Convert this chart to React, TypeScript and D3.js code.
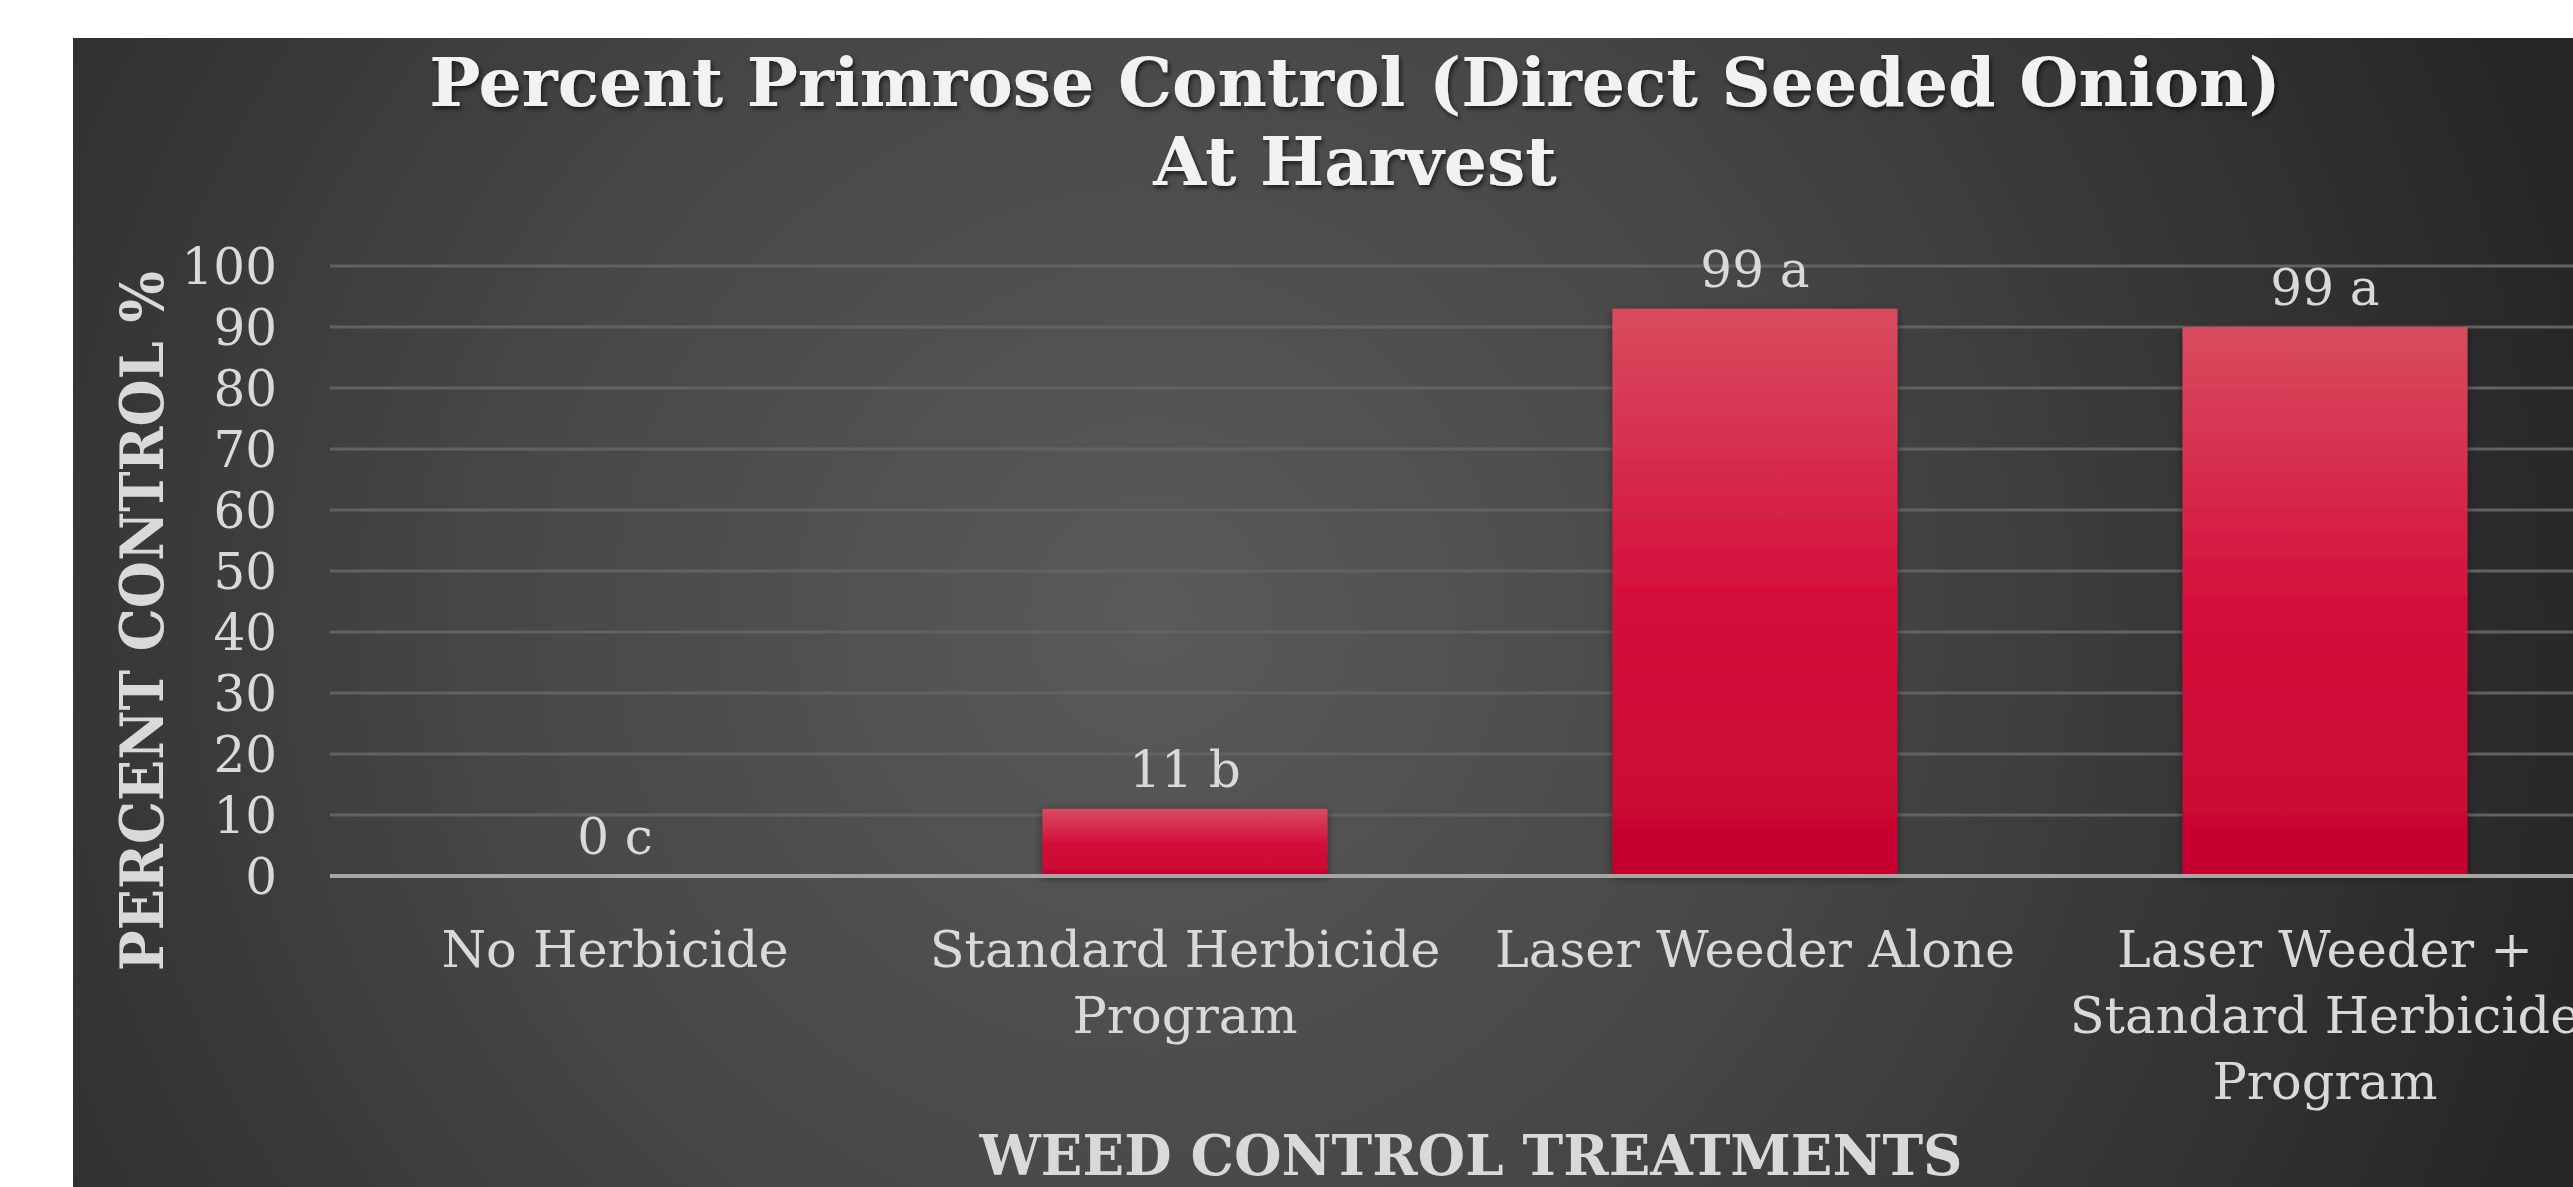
import { useEffect, useRef } from "react";
import * as d3 from "d3";

const categories = [
  "No Herbicide",
  "Standard Herbicide Program",
  "Laser Weeder Alone",
  "Laser Weeder + Standard Herbicide Program",
];
const categoryLines = [
  ["No Herbicide"],
  ["Standard Herbicide", "Program"],
  ["Laser Weeder Alone"],
  ["Laser Weeder +", "Standard Herbicide", "Program"],
];
const values = [0, 11, 93, 90];
const valueLabels = ["0 c", "11 b", "99 a", "99 a"];
const yTicks = [0, 10, 20, 30, 40, 50, 60, 70, 80, 90, 100];
const titleLines = ["Percent Primrose Control (Direct Seeded Onion)", "At Harvest"];

const W = 2573;
const H = 1187;
const serif = "'DejaVu Serif', Georgia, serif";

const ChartBars = () => {
  const svgRef = useRef<SVGSVGElement>(null);

  useEffect(() => {
    const svg = d3.select(svgRef.current);
    svg.selectAll("*").remove();

    const plot = { left: 330, right: 2610, top: 266, bottom: 876 };

    const defs = svg.append("defs");
    // background radial shading
    const bg = defs
      .append("radialGradient")
      .attr("id", "bgGrad")
      .attr("gradientUnits", "userSpaceOnUse")
      .attr("cx", 1150)
      .attr("cy", 620)
      .attr("r", 1450);
    bg.append("stop").attr("offset", "0%").attr("stop-color", "#5a5a5a");
    bg.append("stop").attr("offset", "45%").attr("stop-color", "#474747");
    bg.append("stop").attr("offset", "100%").attr("stop-color", "#272727");

    const barGrad = defs
      .append("linearGradient")
      .attr("id", "barGrad")
      .attr("x1", 0)
      .attr("y1", 0)
      .attr("x2", 0)
      .attr("y2", 1);
    barGrad.append("stop").attr("offset", "0%").attr("stop-color", "#d84c5e");
    barGrad.append("stop").attr("offset", "50%").attr("stop-color", "#d5103c");
    barGrad.append("stop").attr("offset", "100%").attr("stop-color", "#c6042f");

    const shadow = defs
      .append("filter")
      .attr("id", "barShadow")
      .attr("x", "-10%")
      .attr("y", "-10%")
      .attr("width", "120%")
      .attr("height", "120%");
    shadow
      .append("feDropShadow")
      .attr("dx", 0)
      .attr("dy", 2)
      .attr("stdDeviation", 4)
      .attr("flood-color", "#000")
      .attr("flood-opacity", 0.45);

    const textShadow = defs.append("filter").attr("id", "textShadow");
    textShadow
      .append("feDropShadow")
      .attr("dx", 2)
      .attr("dy", 3)
      .attr("stdDeviation", 2)
      .attr("flood-color", "#000")
      .attr("flood-opacity", 0.6);

    // white page + dark chart area
    svg.append("rect").attr("width", W).attr("height", H).attr("fill", "#ffffff");
    svg
      .append("rect")
      .attr("x", 73)
      .attr("y", 38)
      .attr("width", W - 73)
      .attr("height", H - 38)
      .attr("fill", "url(#bgGrad)");

    const xScale = d3
      .scaleBand()
      .domain(categories)
      .range([plot.left, plot.right])
      .paddingInner(0.5)
      .paddingOuter(0.25);

    const yScale = d3.scaleLinear().domain([0, 100]).range([plot.bottom, plot.top]);

    // gridlines
    svg
      .append("g")
      .selectAll("line")
      .data(yTicks.filter((t) => t > 0))
      .enter()
      .append("line")
      .attr("x1", plot.left)
      .attr("x2", plot.right)
      .attr("y1", (d) => yScale(d))
      .attr("y2", (d) => yScale(d))
      .attr("stroke", "#626262")
      .attr("stroke-width", 3);

    // y tick labels
    svg
      .append("g")
      .selectAll("text")
      .data(yTicks)
      .enter()
      .append("text")
      .attr("x", 277)
      .attr("y", (d) => yScale(d))
      .attr("dy", "0.36em")
      .attr("text-anchor", "end")
      .attr("font-family", serif)
      .attr("font-size", 50)
      .attr("fill", "#d9d9d9")
      .text((d) => d);

    // bars
    svg
      .append("g")
      .selectAll("rect")
      .data(values)
      .enter()
      .append("rect")
      .attr("x", (_, i) => xScale(categories[i])!)
      .attr("y", (d) => yScale(d))
      .attr("width", xScale.bandwidth())
      .attr("height", (d) => plot.bottom - yScale(d))
      .attr("fill", "url(#barGrad)")
      .attr("filter", "url(#barShadow)");

    // zero line
    svg
      .append("line")
      .attr("x1", plot.left)
      .attr("x2", plot.right)
      .attr("y1", yScale(0))
      .attr("y2", yScale(0))
      .attr("stroke", "#a6a6a6")
      .attr("stroke-width", 4);

    // value labels
    svg
      .append("g")
      .selectAll("text")
      .data(values)
      .enter()
      .append("text")
      .attr("x", (_, i) => xScale(categories[i])! + xScale.bandwidth() / 2)
      .attr("y", (d) => yScale(d) - 22)
      .attr("text-anchor", "middle")
      .attr("font-family", serif)
      .attr("font-size", 50)
      .attr("fill", "#d9d9d9")
      .text((_, i) => valueLabels[i]);

    // category labels
    const cat = svg
      .append("g")
      .selectAll("text")
      .data(categories)
      .enter()
      .append("text")
      .attr("x", (d) => xScale(d)! + xScale.bandwidth() / 2)
      .attr("y", 967)
      .attr("text-anchor", "middle")
      .attr("font-family", serif)
      .attr("font-size", 51)
      .attr("fill", "#d9d9d9");
    cat
      .selectAll("tspan")
      .data((_, i) => categoryLines[i])
      .enter()
      .append("tspan")
      .attr("x", function () {
        return (this as any).parentNode.getAttribute("x");
      })
      .attr("dy", (_, j) => (j === 0 ? 0 : 66))
      .text((d) => d);

    // chart title
    svg
      .append("g")
      .selectAll("text")
      .data(titleLines)
      .enter()
      .append("text")
      .attr("x", 1355)
      .attr("y", (_, i) => 106 + i * 79)
      .attr("text-anchor", "middle")
      .attr("font-family", serif)
      .attr("font-weight", "bold")
      .attr("font-size", 68)
      .attr("fill", "#f2f2f2")
      .attr("filter", "url(#textShadow)")
      .text((d) => d);

    // y axis title
    svg
      .append("text")
      .attr("transform", `translate(163,621) rotate(-90)`)
      .attr("text-anchor", "middle")
      .attr("font-family", serif)
      .attr("font-weight", "bold")
      .attr("font-size", 60)
      .attr("textLength", 700)
      .attr("lengthAdjust", "spacingAndGlyphs")
      .attr("fill", "#d9d9d9")
      .text("PERCENT CONTROL %");

    // x axis title
    svg
      .append("text")
      .attr("x", 1471)
      .attr("y", 1175)
      .attr("text-anchor", "middle")
      .attr("font-family", serif)
      .attr("font-weight", "bold")
      .attr("font-size", 56)
      .attr("textLength", 983)
      .attr("lengthAdjust", "spacingAndGlyphs")
      .attr("fill", "#d9d9d9")
      .text("WEED CONTROL TREATMENTS");
  }, []);

  return (
    <svg
      ref={svgRef}
      width={W}
      height={H}
      style={{ position: "absolute", left: 0, top: 0, display: "block" }}
    ></svg>
  );
};

export default function App() {
  return <ChartBars />;
}
